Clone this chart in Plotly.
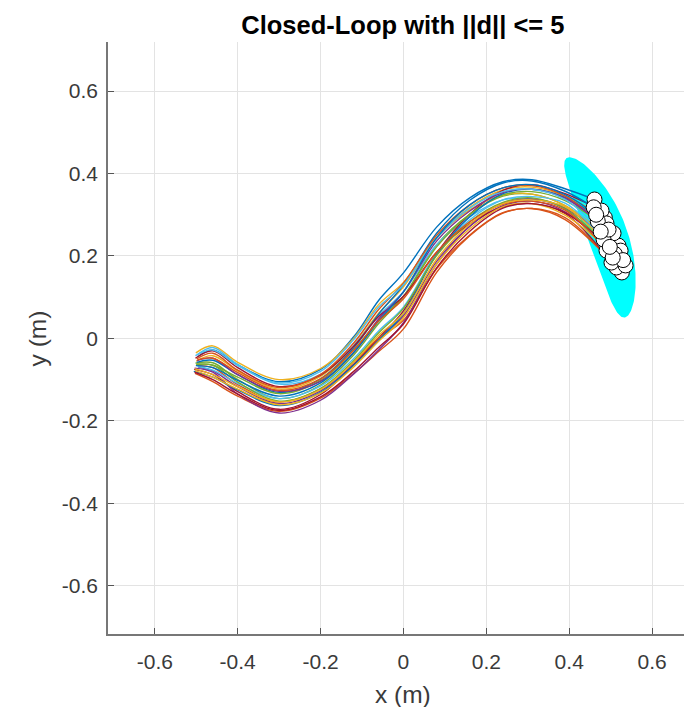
import plotly.graph_objects as go
import numpy as np

# Common x knots along the path (m)
knots_x = [-0.46, -0.40, -0.30, -0.20, -0.12, -0.06, 0.00, 0.08, 0.16, 0.24, 0.31, 0.39]

# Start points of each trajectory
start_x = [-0.497, -0.503, -0.500, -0.495, -0.502, -0.498, -0.505, -0.499, -0.496, -0.501, -0.504, -0.500,
           -0.497, -0.502, -0.506, -0.499, -0.503, -0.498, -0.500, -0.502, -0.504, -0.501, -0.497, -0.503]
start_y = [-0.045, -0.085, -0.055, -0.070, -0.060, -0.040, -0.075, -0.058, -0.066, -0.035, -0.072, -0.062,
           -0.068, -0.048, -0.080, -0.050, -0.078, -0.054, -0.064, -0.042, -0.082, -0.066, -0.052, -0.074]

# y of each trajectory at the knots
traj_y = [
    [-0.028, -0.064, -0.105, -0.075, 0.004, 0.092, 0.159, 0.270, 0.341, 0.380, 0.385, 0.363],
    [-0.105, -0.140, -0.177, -0.145, -0.085, -0.032, 0.023, 0.160, 0.249, 0.304, 0.315, 0.288],
    [-0.042, -0.079, -0.123, -0.092, -0.017, 0.061, 0.125, 0.243, 0.318, 0.360, 0.367, 0.345],
    [-0.079, -0.117, -0.158, -0.127, -0.063, -0.001, 0.055, 0.187, 0.272, 0.322, 0.333, 0.307],
    [-0.059, -0.100, -0.146, -0.113, -0.040, 0.036, 0.102, 0.227, 0.301, 0.345, 0.350, 0.322],
    [-0.022, -0.063, -0.111, -0.087, -0.017, 0.055, 0.113, 0.227, 0.295, 0.336, 0.338, 0.316],
    [-0.088, -0.129, -0.172, -0.136, -0.063, 0.001, 0.067, 0.206, 0.301, 0.359, 0.373, 0.351],
    [-0.053, -0.088, -0.131, -0.098, -0.023, 0.059, 0.130, 0.255, 0.335, 0.377, 0.382, 0.357],
    [-0.071, -0.112, -0.154, -0.122, -0.057, 0.001, 0.044, 0.169, 0.251, 0.305, 0.315, 0.293],
    [-0.018, -0.058, -0.100, -0.073, 0.000, 0.082, 0.136, 0.244, 0.312, 0.348, 0.350, 0.322],
    [-0.082, -0.135, -0.181, -0.150, -0.086, -0.028, 0.038, 0.180, 0.272, 0.328, 0.338, 0.316],
    [-0.065, -0.094, -0.134, -0.102, -0.028, 0.044, 0.102, 0.222, 0.301, 0.348, 0.356, 0.334],
    [-0.077, -0.109, -0.146, -0.116, -0.049, 0.018, 0.076, 0.206, 0.288, 0.336, 0.344, 0.328],
    [-0.030, -0.071, -0.117, -0.089, -0.019, 0.053, 0.102, 0.209, 0.278, 0.319, 0.327, 0.303],
    [-0.094, -0.125, -0.163, -0.131, -0.065, -0.005, 0.061, 0.203, 0.295, 0.351, 0.362, 0.342],
    [-0.036, -0.077, -0.119, -0.087, -0.011, 0.070, 0.134, 0.250, 0.324, 0.365, 0.371, 0.345],
    [-0.094, -0.123, -0.161, -0.133, -0.069, -0.007, 0.050, 0.180, 0.266, 0.319, 0.327, 0.299],
    [-0.048, -0.088, -0.128, -0.104, -0.034, 0.047, 0.113, 0.236, 0.309, 0.354, 0.362, 0.340],
    [-0.065, -0.106, -0.152, -0.122, -0.054, 0.013, 0.073, 0.201, 0.283, 0.330, 0.341, 0.314],
    [-0.028, -0.066, -0.108, -0.080, -0.003, 0.076, 0.130, 0.243, 0.316, 0.356, 0.362, 0.337],
    [-0.100, -0.135, -0.175, -0.142, -0.080, -0.022, 0.035, 0.171, 0.260, 0.316, 0.327, 0.305],
    [-0.071, -0.102, -0.140, -0.108, -0.034, 0.042, 0.113, 0.244, 0.324, 0.365, 0.373, 0.349],
    [-0.048, -0.083, -0.126, -0.098, -0.028, 0.042, 0.096, 0.209, 0.283, 0.325, 0.333, 0.311],
    [-0.088, -0.117, -0.154, -0.124, -0.057, 0.007, 0.061, 0.192, 0.277, 0.327, 0.336, 0.319],
]

# End points (white circles)
end_x = [0.461, 0.527, 0.486, 0.519, 0.500, 0.490, 0.478, 0.459, 0.514, 0.519, 0.524, 0.507,
         0.483, 0.502, 0.490, 0.469, 0.536, 0.495, 0.510, 0.476, 0.530, 0.465, 0.505, 0.498]
end_y = [0.337, 0.160, 0.293, 0.194, 0.238, 0.213, 0.310, 0.318, 0.172, 0.225, 0.213, 0.255,
         0.240, 0.184, 0.279, 0.284, 0.177, 0.264, 0.205, 0.259, 0.190, 0.300, 0.196, 0.222]

# Terminal region (bent ellipse) parameters
region_center = (0.466, 0.245)
region_semi_major = 0.206
region_semi_minor = 0.048
region_dir = (0.339, -0.941)
region_bow = 0.027

matlab_colors = ["#0072BD", "#D95319", "#EDB120", "#7E2F8E", "#77AC30", "#4DBEEE", "#A2142F"]

fig = go.Figure()

# terminal region
t = np.linspace(0, 2 * np.pi, 200)
u = region_semi_major * np.cos(t)
v = region_semi_minor * np.sin(t) + region_bow * (1 - (u / region_semi_major) ** 2)
dx, dy = region_dir
nx, ny = -dy, dx
ex = region_center[0] + u * dx + v * nx
ey = region_center[1] + u * dy + v * ny
fig.add_trace(go.Scatter(x=ex, y=ey, fill="toself", fillcolor="#00FFFF", mode="lines",
                         line=dict(width=0, color="#00FFFF"), hoverinfo="skip", showlegend=False))

for i, ys in enumerate(traj_y):
    xs = [start_x[i]] + knots_x + [end_x[i]]
    yy = [start_y[i]] + ys + [end_y[i]]
    fig.add_trace(go.Scatter(x=xs, y=yy, mode="lines",
                             line=dict(color=matlab_colors[i % 7], width=1.4, shape="spline", smoothing=1.0),
                             showlegend=False))

fig.add_trace(go.Scatter(x=end_x, y=end_y, mode="markers",
                         marker=dict(size=15, color="white", line=dict(color="black", width=1)),
                         showlegend=False))

tickvals = [-0.6, -0.4, -0.2, 0, 0.2, 0.4, 0.6]
ticktext = ["-0.6", "-0.4", "-0.2", "0", "0.2", "0.4", "0.6"]
axis_common = dict(
    tickvals=tickvals, ticktext=ticktext, ticks="inside", ticklen=6, tickcolor="#555555",
    showgrid=True, gridcolor="#e3e3e3", gridwidth=1, zeroline=False,
    showline=True, linecolor="#777777", linewidth=1.5,
    tickfont=dict(family="Liberation Sans, Arial", size=21, color="#3a3a3a"),
)

fig.update_layout(
    width=684, height=707,
    margin=dict(l=108, r=0, t=42, b=73),
    paper_bgcolor="white", plot_bgcolor="white",
    xaxis=dict(range=[-0.713, 0.677], ticklabelstandoff=8, **axis_common),
    yaxis=dict(range=[-0.717, 0.719], ticklabelstandoff=4, **axis_common),
    title=dict(text="<b>Closed-Loop with ||d|| <= 5</b>", xref="paper", x=0.512, xanchor="center",
               yref="container", y=1 - 25 / 707, yanchor="middle",
               font=dict(family="Liberation Sans, Arial", size=25.5, color="black")),
    annotations=[
        dict(text="x (m)", xref="x", yref="paper", x=0.0, y=0, yshift=-60, yanchor="middle",
             xanchor="center", showarrow=False,
             font=dict(family="Liberation Sans, Arial", size=24.5, color="#3a3a3a")),
        dict(text="y (m)", xref="paper", yref="y", x=0, y=0.0, xshift=-71, xanchor="center",
             yanchor="middle", showarrow=False,
             textangle=-90, font=dict(family="Liberation Sans, Arial", size=24.5, color="#3a3a3a")),
    ],
)

fig.write_html("out.html")
